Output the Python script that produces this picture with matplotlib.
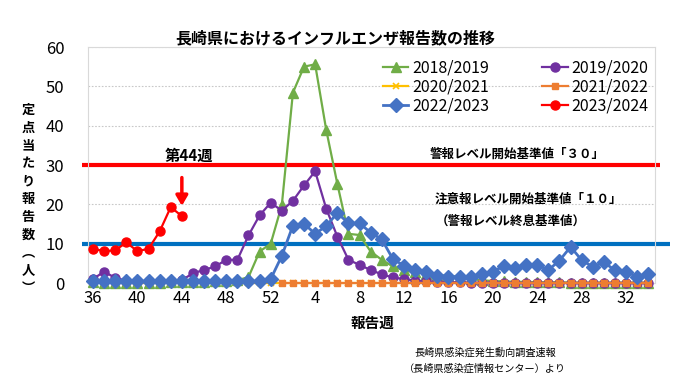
import matplotlib
matplotlib.use("Agg")
import matplotlib.pyplot as plt
from matplotlib.font_manager import FontProperties

plt.rcParams['font.family'] = ['Noto Sans CJK JP', 'DejaVu Sans']

weeks = list(range(36, 53)) + list(range(1, 35))
tick_weeks = [36, 40, 44, 48, 52, 4, 8, 12, 16, 20, 24, 28, 32]

s2018 = [0.2, 0.1, 0.1, 0.1, 0.1, 0.1, 0.1, 0.2, 0.2, 0.3, 0.3, 0.4, 0.5,
         0.7, 1.5, 8.0, 10.0,
         19.8, 48.4, 55.0, 55.6, 38.9, 25.2, 12.5, 12.2, 8.0, 5.9, 4.2, 3.2,
         2.8, 2.4, 2.0, 1.8, 1.6, 1.0, 0.7, 0.5, 0.4, 0.3, 0.3, 0.2, 0.2,
         0.2, 0.1, 0.1, 0.1, 0.1, 0.1, 0.1, 0.1, 0.1]
s2019 = [1.0, 2.9, 1.3, 0.6, 0.5, 0.5, 0.5, 0.6, 0.7, 2.5, 3.3, 4.2, 5.9,
         5.9, 12.1, 17.2, 20.4,
         18.4, 20.9, 24.8, 28.4, 18.9, 11.8, 5.9, 4.6, 3.3, 2.2, 1.4, 1.0,
         0.6, 0.4, 0.3, 0.2, 0.2, 0.1, 0.1, 0.1, 0.1, 0.0, 0.0, 0.0, 0.0,
         0.0, 0.0, 0.0, 0.0, 0.0, 0.0, 0.0, 0.0, 0.0]
s2020 = [0.1, 0.1, 0.0, 0.0, 0.0, 0.0, 0.0, 0.0, 0.0, 0.0, 0.0, 0.0, 0.0,
         0.0, 0.0, 0.0, 0.0,
         0.0, 0.0, 0.0, 0.0, 0.0, 0.0, 0.0, 0.0, 0.0, 0.0, 0.0, 0.0,
         0.0, 0.0, 0.0, 0.0, 0.0, 0.0, 0.0, 0.0, 0.0, 0.0, 0.0, 0.0, 0.0,
         0.0, 0.0, 0.0, 0.0, 0.0, 0.0, 0.0, 0.0, 0.0]
s2021 = [None] * 17 + [
         0.0, 0.0, 0.0, 0.0, 0.0, 0.0, 0.0, 0.0, 0.0, 0.0, 0.0, 0.0,
         0.0, 0.0, 0.0, 0.0, 0.0, 0.0, 0.0, 0.0, 0.0, 0.0, 0.0, 0.0, 0.0,
         0.0, 0.0, 0.0, 0.0, 0.0, 0.0, 0.0, 0.0, 0.0]
s2022 = [0.4, 0.4, 0.4, 0.4, 0.4, 0.4, 0.4, 0.4, 0.4, 0.4, 0.4, 0.4, 0.4,
         0.4, 0.4, 0.5, 1.0,
         6.9, 14.6, 15.1, 12.5, 14.5, 17.8, 15.2, 15.2, 12.8, 11.1, 6.1, 4.4,
         3.4, 2.7, 1.9, 1.6, 1.4, 1.4, 2.2, 2.9, 4.3, 3.7, 4.6, 4.6, 3.3,
         5.7, 9.2, 5.8, 4.1, 5.3, 3.2, 2.9, 1.6, 2.4]
s2023 = [8.7, 8.1, 8.3, 10.3, 8.1, 8.7, 13.1, 19.3, 17.0]

alert_level = 30
warn_level = 10

x = list(range(len(weeks)))
fig = plt.figure(figsize=(6.8, 3.82), dpi=100)
ax = fig.add_axes([88/680, 1-283/382, (655-88)/680, (283-47)/382])

def xs_ys(vals):
    px, py = [], []
    for i, v in enumerate(vals):
        if v is not None:
            px.append(x[i]); py.append(v)
    return px, py

series = [
    ("2018/2019", s2018, dict(color="#70AD47", marker="^", ms=6.5, lw=1.6)),
    ("2019/2020", s2019, dict(color="#7030A0", marker="o", ms=6.5, lw=1.6)),
    ("2020/2021", s2020, dict(color="#FFC000", marker="x", ms=5, mew=1.2, lw=1.6)),
    ("2021/2022", s2021, dict(color="#ED7D31", marker="s", ms=4.5, lw=1.6)),
    ("2022/2023", s2022, dict(color="#4472C4", marker="D", ms=7.5, lw=2.0)),
    ("2023/2024", s2023, dict(color="#FF0000", marker="o", ms=6.5, lw=1.6)),
]
handles = []
for i, (lab, vals, st) in enumerate(series):
    px, py = xs_ys(vals)
    ln, = ax.plot(px, py, label=lab, clip_on=False, zorder=3 + i, **st)
    handles.append(ln)

ax.set_xlim(-0.45, 50.6)
ax.set_ylim(0, 60)
ax.set_yticks(range(0, 61, 10))
ax.set_xticks([weeks.index(w) if i < 5 else 17 + w - 1 for i, w in enumerate(tick_weeks)])
ax.set_xticklabels([str(w) for w in tick_weeks])
tick_fp = FontProperties(family='Noto Sans CJK JP', size=12)
for lbl in ax.get_xticklabels() + ax.get_yticklabels():
    lbl.set_fontproperties(tick_fp)
ax.tick_params(length=0, axis='y', pad=17)
ax.tick_params(length=0, axis='x', pad=5)
ax.yaxis.grid(True, color='#C8C8C8', linestyle=(0, (1.5, 1.5)), lw=0.8)
ax.set_axisbelow(True)
for sp in ax.spines.values():
    sp.set_color('#D9D9D9')
    sp.set_linewidth(0.8)

trans = ax.get_yaxis_transform()
ax.plot([-0.011, 1.009], [alert_level, alert_level], color='#FF0000', lw=3,
        transform=trans, clip_on=False, zorder=2.5, solid_capstyle='butt')
ax.plot([-0.011, 1.027], [warn_level, warn_level], color='#0070C0', lw=3,
        transform=trans, clip_on=False, zorder=2.5, solid_capstyle='butt')

# row-wise legend order (matplotlib fills columns first)
order = [0, 2, 4, 1, 3, 5]
leg = ax.legend(handles=[handles[k] for k in order], ncol=2, loc='upper left',
                bbox_to_anchor=(0.52, 0.945), frameon=False,
                handlelength=1.6, handletextpad=0.25, columnspacing=3.3,
                labelspacing=0.1, borderpad=0, borderaxespad=0,
                prop=FontProperties(family='Noto Sans CJK JP', size=11.5))

fig.text(0.493, 0.90, "長崎県におけるインフルエンザ報告数の推移", ha='center',
         va='center', fontsize=11.5, fontweight='bold')

ax.text(8.6, 32.2, "第44週", ha='center', va='center', fontsize=11, fontweight='bold')
ax.annotate('', xy=(8.0, 19.6), xytext=(8.0, 26.8),
            arrowprops=dict(arrowstyle='-|>,head_width=0.35,head_length=0.6',
                            color='#FF0000', lw=2.5, shrinkA=0, shrinkB=0))
ax.text(38.2, 32.7, "警報レベル開始基準値「３０」", ha='center', va='center',
        fontsize=9, fontweight='bold')
ax.text(39.2, 21.2, "注意報レベル開始基準値「１０」", ha='center', va='center',
        fontsize=9, fontweight='bold')
ax.text(37.6, 15.6, "（警報レベル終息基準値）", ha='center', va='center',
        fontsize=9, fontweight='bold')

ylabel_chars = ["定", "点", "当", "た", "り", "報", "告", "数", "︵", "人", "︶"]
y0, y1 = 110, 288
for k, ch in enumerate(ylabel_chars):
    yy = y0 + (y1 - y0) * k / (len(ylabel_chars) - 1)
    fig.text(28/680, 1 - yy/382, ch, ha='center', va='center', fontsize=9.5,
             fontweight='bold')

fig.text(372/680, 1 - 323/382, "報告週", ha='center', va='center', fontsize=10.5,
         fontweight='bold')
fig.text(485/680, 1 - 353/382, "長崎県感染症発生動向調査速報", ha='center',
         va='center', fontsize=7.3)
fig.text(485/680, 1 - 369/382, "（長崎県感染症情報センター）より", ha='center',
         va='center', fontsize=7.3)

fig.savefig("out.png", dpi=100)
